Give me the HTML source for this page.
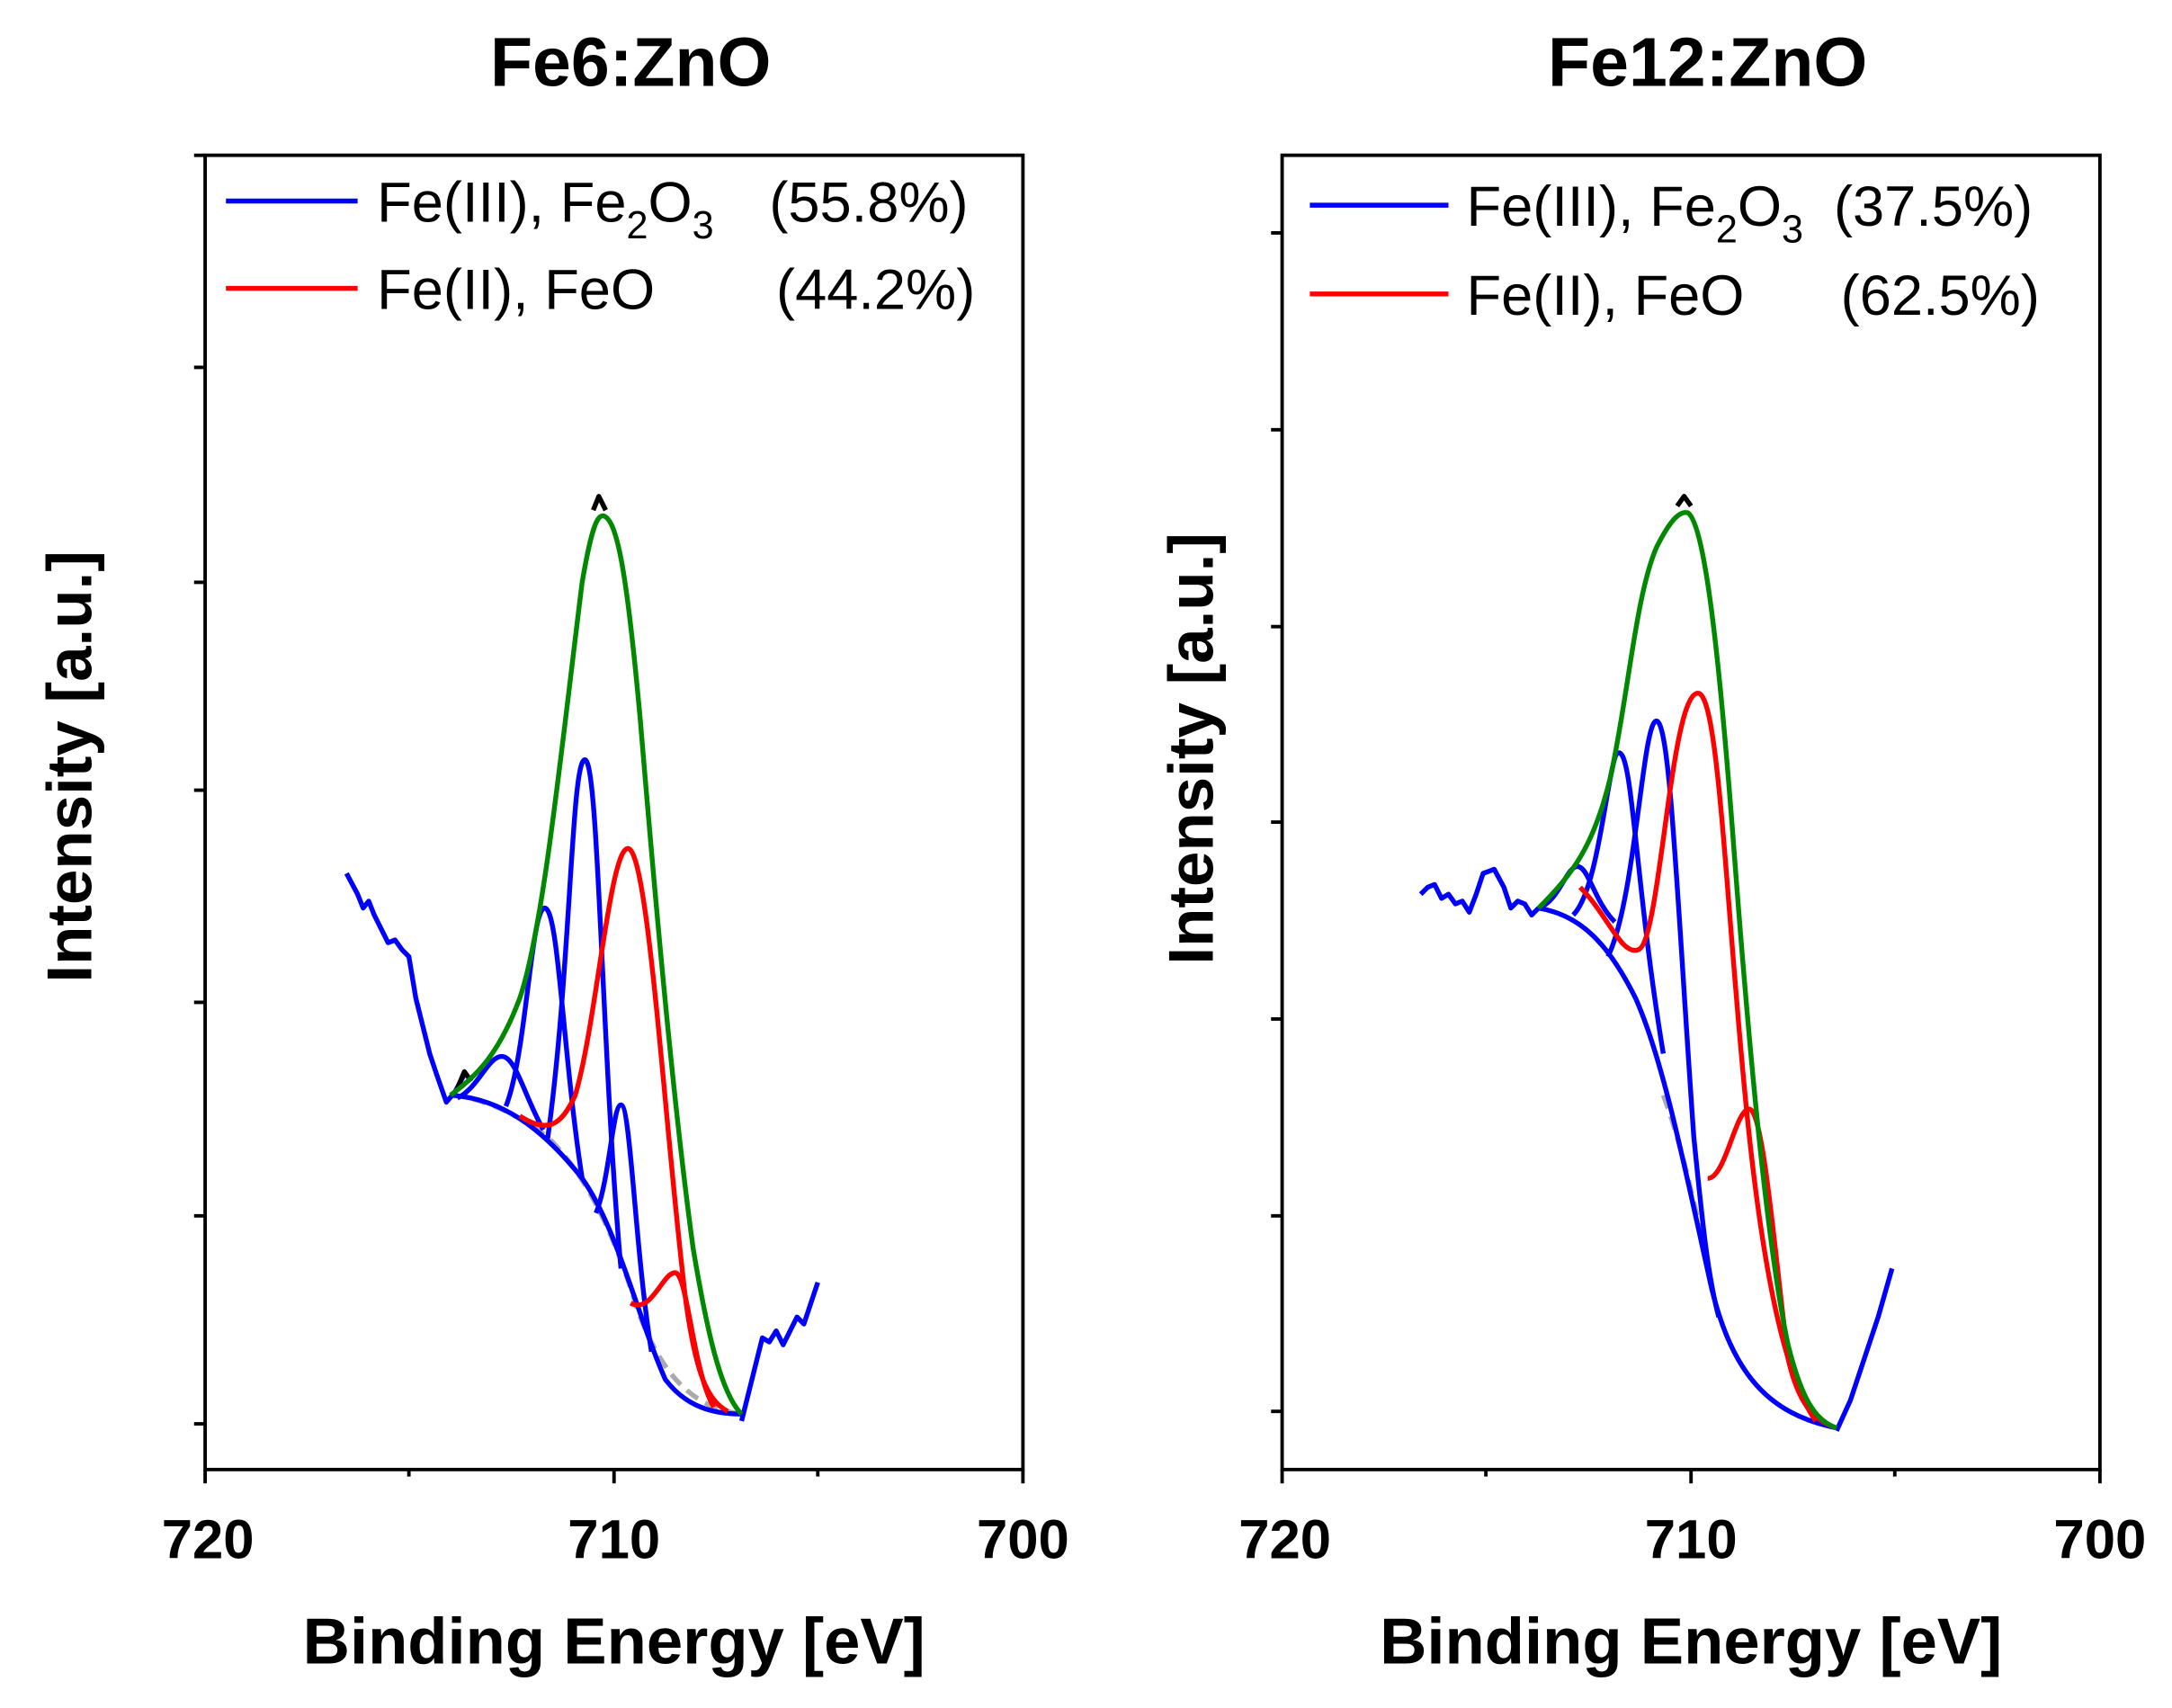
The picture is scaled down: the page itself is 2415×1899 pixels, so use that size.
<!DOCTYPE html>
<html><head><meta charset="utf-8"><style>
html,body{margin:0;padding:0;background:#fff;}
svg{display:block;}
text{font-family:"Liberation Sans",Arial,sans-serif;}
.t{font-weight:bold;font-size:50px;}
.xl{font-weight:bold;font-size:47px;}
.yl{font-weight:bold;font-size:46px;}
.tk{font-weight:bold;font-size:40px;}
.lg{font-size:41px;}
</style></head><body>
<svg width="2415" height="1899" viewBox="0 0 1567 1232" preserveAspectRatio="none" xmlns="http://www.w3.org/2000/svg">
<rect width="1567" height="1232" fill="#fff"/>
<text class="t" x="455" y="62" text-anchor="middle">Fe6:ZnO</text>
<text class="t" x="1232" y="62" text-anchor="middle">Fe12:ZnO</text>

<!-- LEFT PANEL -->
<g fill="none" stroke="#000" stroke-width="2.5">
<rect x="148" y="112" width="590" height="948"/>
<path d="M148 265h-8M148 420h-8M148 570h-8M148 723h-8M148 877h-8M148 1027h-8M148 112h-8"/>
<path d="M148 1060v10M443 1060v10M738 1060v10M295 1060v5M590 1060v5"/>
</g>
<text class="tk" x="150" y="1124" text-anchor="middle">720</text>
<text class="tk" x="443" y="1124" text-anchor="middle">710</text>
<text class="tk" x="738" y="1124" text-anchor="middle">700</text>
<text class="xl" x="443" y="1200" text-anchor="middle">Binding Energy [eV]</text>
<text class="yl" transform="translate(66,553) rotate(-90)" text-anchor="middle">Intensity [a.u.]</text>
<line x1="163" y1="145" x2="258" y2="145" stroke="#00f" stroke-width="3.5"/>
<line x1="163" y1="208" x2="258" y2="208" stroke="#f00" stroke-width="3.5"/>
<text class="lg" x="272" y="160">Fe(III), Fe<tspan font-size="28" dy="12">2</tspan><tspan dy="-12">O</tspan><tspan font-size="28" dy="12">3</tspan></text>
<text class="lg" x="555" y="160">(55.8%)</text>
<text class="lg" x="272" y="223">Fe(II), FeO</text>
<text class="lg" x="560" y="223">(44.2%)</text>

<g fill="none" stroke-width="3.5" stroke-linejoin="round">
<path stroke="#aaa" stroke-dasharray="10 6" d="M325 790 C350 792 375 805 395 820 C420 845 440 880 460 945 C475 985 495 1015 535 1020"/>
<path stroke="#00f" d="M250 630 L258 645 262 655 266 650 270 660 275 670 280 680 285 678 290 685 295 690 300 720 305 740 310 760 315 775 322 795 328 788 335 775"/>
<path stroke="#00f" d="M535 1025 L540 1005 545 985 550 965 555 968 560 960 565 970 570 960 575 950 580 955 585 940 590 925"/>
<path stroke="#00f" d="M325 790 C360 792 390 812 420 850 C445 885 460 950 480 995 C495 1015 515 1020 535 1020"/>
<path stroke="#00f" d="M330 792 C345 785 352 762 362 762 C372 762 378 790 392 815"/>
<path stroke="#00f" d="M365 798 C380 760 383 655 393 655 C403 655 406 760 420 850"/>
<path stroke="#00f" d="M395 822 C412 700 412 548 422 548 C432 548 434 760 448 915"/>
<path stroke="#00f" d="M430 875 C440 850 442 797 448 797 C455 797 458 900 470 975"/>
<path stroke="#f00" d="M375 805 C395 818 405 812 415 790 C430 740 440 612 453 612 C468 612 480 820 495 940 C502 990 510 1010 525 1018"/>
<path stroke="#f00" d="M455 940 C470 948 478 918 487 918 C496 918 500 990 515 1015"/>
<path stroke="#000" d="M330 785 L335 773 340 780"/>
<path stroke="#000" d="M428 368 L432 358 437 368"/>
<path stroke="#080" d="M325 790 C345 775 360 760 375 720 C392 670 405 540 420 420 C426 385 430 372 435 372 C445 374 452 410 462 520 C472 640 485 790 500 900 C510 960 520 1005 535 1020"/>
</g>

<!-- RIGHT PANEL -->
<g fill="none" stroke="#000" stroke-width="2.5">
<rect x="925" y="112" width="590" height="948"/>
<path d="M925 168h-8M925 310h-8M925 452h-8M925 593h-8M925 735h-8M925 877h-8M925 1018h-8"/>
<path d="M925 1060v10M1220 1060v10M1515 1060v10M1072 1060v5M1367 1060v5"/>
</g>
<text class="tk" x="927" y="1124" text-anchor="middle">720</text>
<text class="tk" x="1220" y="1124" text-anchor="middle">710</text>
<text class="tk" x="1515" y="1124" text-anchor="middle">700</text>
<text class="xl" x="1220" y="1200" text-anchor="middle">Binding Energy [eV]</text>
<text class="yl" transform="translate(875,540) rotate(-90)" text-anchor="middle">Intensity [a.u.]</text>
<line x1="945" y1="148" x2="1045" y2="148" stroke="#00f" stroke-width="3.5"/>
<line x1="945" y1="212" x2="1045" y2="212" stroke="#f00" stroke-width="3.5"/>
<text class="lg" x="1058" y="163">Fe(III), Fe<tspan font-size="28" dy="12">2</tspan><tspan dy="-12">O</tspan><tspan font-size="28" dy="12">3</tspan></text>
<text class="lg" x="1323" y="163">(37.5%)</text>
<text class="lg" x="1058" y="227">Fe(II), FeO</text>
<text class="lg" x="1328" y="227">(62.5%)</text>

<g fill="none" stroke-width="3.5" stroke-linejoin="round">
<path stroke="#aaa" stroke-dasharray="10 6" d="M1200 790 C1215 830 1222 870 1230 900"/>
<path stroke="#00f" d="M1025 645 L1030 640 1035 638 1040 648 1045 645 1050 652 1055 650 1060 658 1065 645 1070 630 1078 627 1085 640 1090 655 1095 650 1100 652 1105 660 1110 655"/>
<path stroke="#00f" d="M1325 1032 L1335 1010 1345 980 1355 950 1365 915"/>
<path stroke="#00f" d="M1110 655 C1140 660 1160 680 1180 720 C1200 765 1215 840 1235 930 C1250 990 1275 1020 1325 1030"/>
<path stroke="#00f" d="M1110 655 C1125 650 1130 625 1138 625 C1146 625 1150 650 1165 665"/>
<path stroke="#00f" d="M1135 660 C1155 640 1160 543 1168 543 C1178 543 1180 640 1200 760"/>
<path stroke="#00f" d="M1160 690 C1180 650 1185 520 1195 520 C1205 520 1210 650 1222 820 C1228 880 1232 920 1240 950"/>
<path stroke="#f00" d="M1140 640 C1160 660 1170 690 1182 685 C1198 680 1205 500 1225 500 C1240 500 1245 650 1260 800 C1270 900 1285 990 1310 1025"/>
<path stroke="#f00" d="M1232 850 C1245 850 1252 800 1262 800 C1272 800 1280 900 1290 980 C1298 1015 1310 1025 1325 1030"/>
<path stroke="#000" d="M1210 365 L1215 358 1220 365"/>
<path stroke="#080" d="M1110 655 C1135 630 1150 610 1162 560 C1175 500 1180 430 1195 395 C1205 375 1212 368 1218 370 C1230 380 1240 470 1250 600 C1262 760 1275 900 1290 970 C1300 1010 1310 1025 1325 1030"/>
</g>
</svg>
</body></html>
